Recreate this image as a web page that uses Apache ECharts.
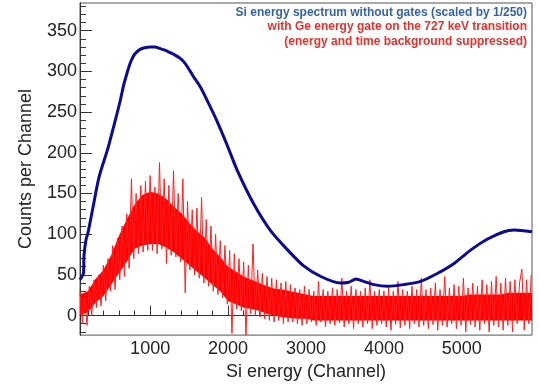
<!DOCTYPE html>
<html>
<head>
<meta charset="utf-8">
<script src="https://cdn.jsdelivr.net/npm/echarts@6/dist/echarts.min.js"></script>
<style>
  html, body { margin: 0; padding: 0; background: #fff; }
  #chart { width: 539px; height: 386px; }
</style>
</head>
<body>
<div id="chart"></div>
<script>
// blue: ungated Si spectrum (scaled by 1/250)
var blueX = [100, 125, 145, 151, 177, 203, 267, 344, 460, 537, 614, 660, 704, 740, 781, 820, 871, 930, 1000,
    1060, 1129, 1190, 1257, 1320, 1386, 1430, 1476, 1553, 1643, 1733, 1862, 1990, 2119, 2330, 2540, 2760, 2970, 3190,
    3440, 3550, 3640, 3740, 3870, 4050, 4250, 4470, 4690, 4900, 5120, 5330, 5540, 5670, 5900];
var blueY = [44, 48, 52, 73, 93, 102, 133, 170, 206, 234, 263, 283, 298, 309, 318, 323, 327, 329, 330,
    330, 328, 326, 323, 320, 316, 312, 306, 294, 281, 264, 238, 209, 178, 137, 105, 81, 61, 48,
    40, 41, 45, 42, 38, 36, 38, 42, 52, 64, 81, 94, 103, 105, 103];

// red: dense core of the gated spectrum, every 100 channels from 100
var bandStart = 100;
var bandStep = 100;
var bandLo = [0, 4, 16, 24, 38, 52, 66, 82, 86, 88,
    88, 84, 78, 70, 62, 54, 46, 38, 30, 18,
    14, 10, 8, 6, 2, 0, -2, -3, -4, -4,
    -6, -6, -6, -6, -6, -6, -6, -6, -6, -6,
    -6, -6, -6, -6, -6, -6, -6, -6, -6, -6,
    -6, -6, -6, -6, -6, -6, -6, -6, -6];
var bandHi = [26, 30, 45, 56, 74, 98, 118, 136, 148, 152,
    150, 144, 134, 126, 114, 104, 96, 82, 72, 60,
    54, 48, 44, 40, 36, 33, 32, 30, 28, 26,
    24, 24, 24, 24, 24, 24, 24, 24, 24, 24,
    24, 24, 24, 24, 24, 24, 24, 24, 24, 24,
    26, 26, 26, 26, 26, 28, 28, 28, 28];

// red: bin-to-bin fluctuations, every 30 channels from 100
var redStart = 100;
var redStep = 30;
var redY = [
    30, -10, 22, -12, 36, 0, 44, 10, 50, 12,
    62, 18, 70, 30, 86, 32, 95, 44, 110, 48,
    125, 58, 168, 70, 150, 76, 160, 78, 165, 80,
    172, 80, 158, 76, 188, 82, 168, 64, 160, 74,
    178, 72, 150, 66, 168, 28, 140, 56, 130, 50,
    132, 46, 145, 40, 118, 36, 110, 30, 100, 26,
    92, 22, 86, 14, 80, -22, 76, 8, 70, 6,
    66, -24, 62, 2, 88, 0, 56, -2, 52, -4,
    48, -6, 46, -8, 44, -6, 40, -10, 42, -8,
    38, -8, 34, -10, 32, -12, 36, -10, 32, -8,
    30, -12, 42, -8, 32, -14, 30, -10, 34, -12,
    32, -9, 46, -14, 30, -10, 36, -16, 32, -10,
    30, -14, 34, -10, 44, -16, 30, -12, 32, -10,
    30, -14, 34, -18, 30, -11, 42, -15, 32, -12,
    30, -16, 36, -10, 32, -14, 46, -12, 32, -16,
    34, -11, 40, -18, 32, -12, 48, -14, 34, -10,
    38, -16, 36, -12, 46, -20, 34, -11, 40, -14,
    36, -18, 44, -10, 38, -20, 42, -12, 48, -14,
    40, -18, 46, -12, 42, -20, 44, -10, 40, 57,
    -18, 44, -10, 50
];

var yMajor = [0, 50, 100, 150, 200, 250, 300, 350];
var yMinor = [-20, -10, 10, 20, 30, 40, 60, 70, 80, 90, 110, 120, 130, 140, 160, 170, 180, 190,
    210, 220, 230, 240, 260, 270, 280, 290, 310, 320, 330, 340, 360, 370, 380];
var xMajor = [1000, 2000, 3000, 4000, 5000];
var xMinor = [200, 400, 600, 800, 1200, 1400, 1600, 1800, 2200, 2400, 2600, 2800, 3200, 3400,
    3600, 3800, 4200, 4400, 4600, 4800, 5200, 5400, 5600, 5800];

var font = 'Liberation Sans';

var bluePts = blueX.map(function (x, i) { return [x, blueY[i]]; });
var redPts = redY.map(function (y, i) { return [redStart + i * redStep, y]; });

function plain(v) { return String(v); }

// filled core of the red histogram: hi edge left->right, lo edge back
function renderBand(params, api) {
    var pts = [];
    var i;
    for (i = 0; i < bandHi.length; i++) {
        pts.push(api.coord([bandStart + i * bandStep, bandHi[i]]));
    }
    for (i = bandLo.length - 1; i >= 0; i--) {
        pts.push(api.coord([bandStart + i * bandStep, bandLo[i]]));
    }
    return { type: 'polygon', shape: { points: pts }, style: { fill: '#ff0000' } };
}

function xAxisOf(ticks, len, labels) {
    return {
        type: 'value', min: 100, max: 5900, position: 'bottom',
        axisLine: { show: labels, lineStyle: { color: '#333', width: 1 } },
        splitLine: { show: false },
        axisTick: { show: true, inside: true, length: len, customValues: ticks, lineStyle: { color: '#333' } },
        axisLabel: { show: labels, customValues: ticks, formatter: plain, margin: 5,
            fontFamily: font, fontSize: 18, color: '#222' },
        name: labels ? 'Si energy (Channel)' : '',
        nameLocation: 'middle', nameGap: 22,
        nameTextStyle: { fontFamily: font, fontSize: 18, color: '#222' }
    };
}

function yAxisOf(ticks, len, labels) {
    return {
        type: 'value', min: -24, max: 384, position: 'left',
        axisLine: { show: labels, lineStyle: { color: '#333', width: 1 } },
        splitLine: { show: false },
        axisTick: { show: true, inside: true, length: len, customValues: ticks, lineStyle: { color: '#333' } },
        axisLabel: { show: labels, customValues: ticks, formatter: plain, margin: 3,
            fontFamily: font, fontSize: 18, color: '#222' },
        name: labels ? 'Counts per Channel' : '',
        nameLocation: 'middle', nameGap: 45, nameRotate: 90,
        nameTextStyle: { fontFamily: font, fontSize: 18, color: '#222' }
    };
}

var chart = echarts.init(document.getElementById('chart'), null, { renderer: 'canvas' });
chart.setOption({
    animation: false,
    backgroundColor: '#fff',
    grid: { left: 80, right: 7, top: 3, bottom: 46, show: true, borderColor: '#555', borderWidth: 1 },
    xAxis: [xAxisOf(xMajor, 10, true), xAxisOf(xMinor, 5, false)],
    yAxis: [yAxisOf(yMajor, 12, true), yAxisOf(yMinor, 6, false)],
    graphic: [
        { type: 'text', right: 12, top: 7, style: { text: 'Si energy spectrum without gates (scaled by 1/250)',
            font: 'bold 12px "Liberation Sans"', fill: '#3563a6', textAlign: 'right' } },
        { type: 'text', right: 12, top: 21, style: { text: 'with Ge energy gate on the 727 keV transition',
            font: 'bold 12px "Liberation Sans"', fill: '#e3312b', textAlign: 'right' } },
        { type: 'text', right: 12, top: 36, style: { text: '(energy and time background suppressed)',
            font: 'bold 12px "Liberation Sans"', fill: '#e3312b', textAlign: 'right' } }
    ],
    series: [
        {
            type: 'custom', data: [0], renderItem: renderBand, clip: true, silent: true, z: 1
        },
        {
            type: 'line', data: redPts, showSymbol: false, clip: true,
            lineStyle: { color: '#ff2020', width: 1 }, z: 2
        },
        {
            type: 'line', data: bluePts, showSymbol: false, clip: true, smooth: 0.25,
            lineStyle: { color: '#0a0a96', width: 3, join: 'round' }, z: 3
        }
    ]
});
</script>
</body>
</html>
